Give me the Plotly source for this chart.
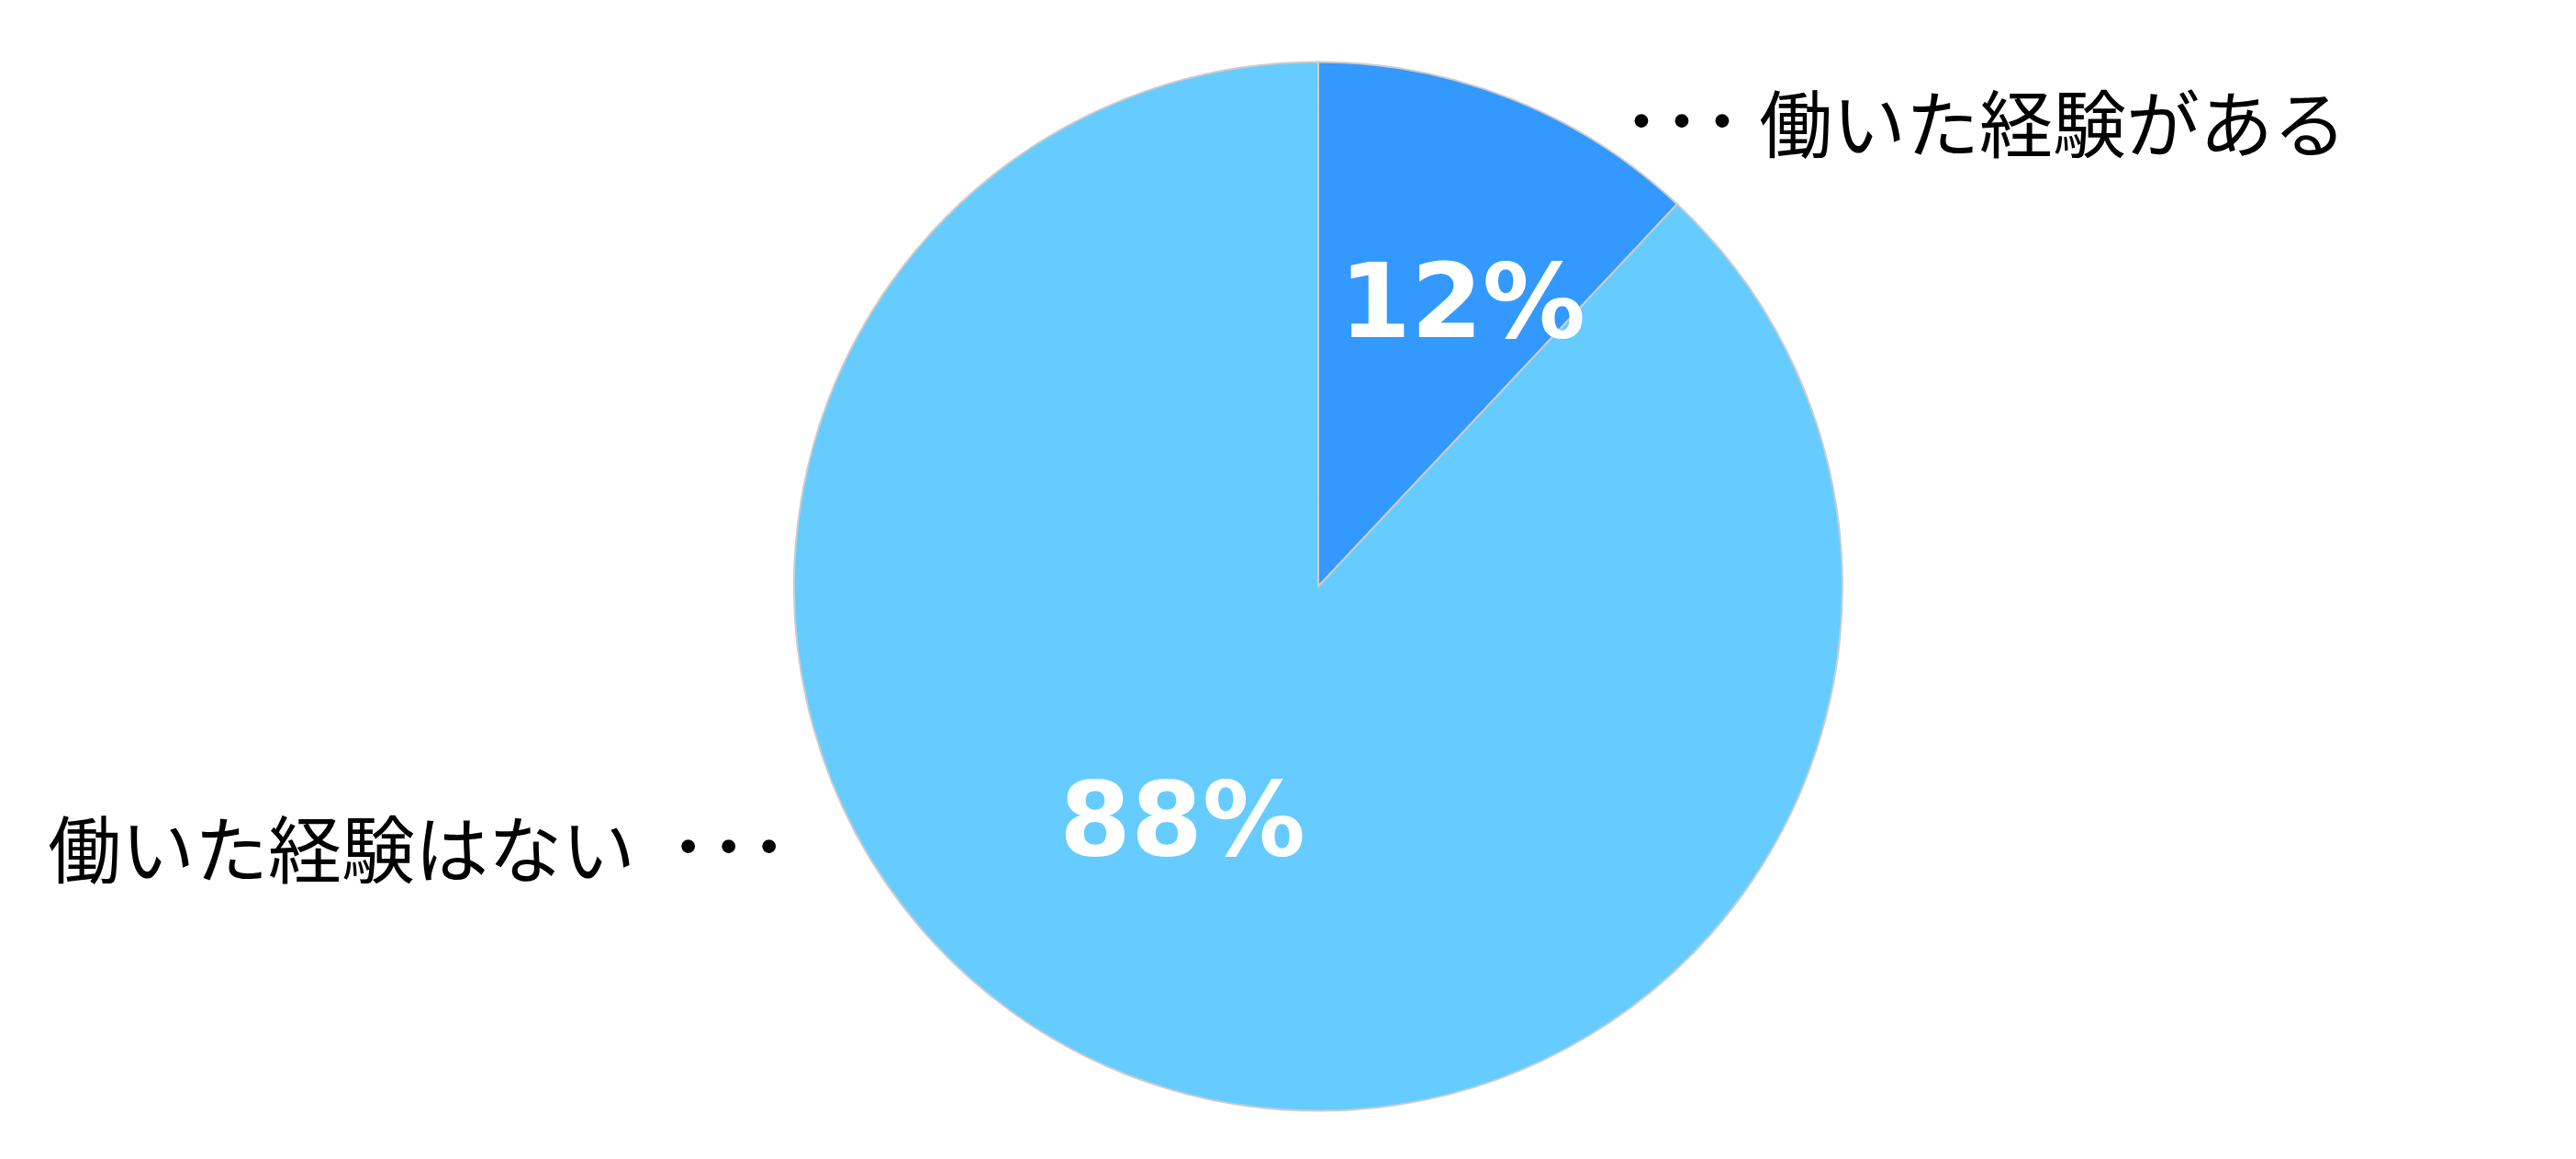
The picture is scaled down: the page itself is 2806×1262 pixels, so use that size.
import plotly.graph_objects as go

# データ
labels = ["働いた経験がある", "働いた経験はない"]
values = [12, 88]
colors = ["#3399FF", "#66CCFF"]

W, H = 2806, 1262

fig = go.Figure()

fig.add_trace(go.Pie(
    labels=labels,
    values=values,
    sort=False,
    direction="clockwise",
    rotation=0,
    marker=dict(colors=colors, line=dict(color="#CCCCCC", width=2)),
    textinfo="none",
    domain=dict(x=[0.3054, 0.7124], y=[0.0475, 0.9532]),
    showlegend=False,
    hoverinfo="label+percent",
))

# パーセント表示 (位置は画像から)
total = sum(values)
pct_pos = [(1585, 320), (1280, 884)]
for v, (px, py) in zip(values, pct_pos):
    fig.add_annotation(
        text=f"{round(v / total * 100)}%",
        x=px / W, y=(H - py) / H, xref="paper", yref="paper",
        xanchor="center", yanchor="middle", showarrow=False,
        font=dict(family="DejaVu Sans", size=112, color="white", weight="bold"),
    )

# 外側のラベル
dots = '<span style="font-size:88px">･･･</span>'
fig.add_annotation(
    text=dots + " " + labels[0],
    x=1756 / W, y=(H - 118) / H, xref="paper", yref="paper",
    xanchor="left", yanchor="middle", showarrow=False,
    font=dict(family="Noto Sans CJK JP", size=80, color="black"),
)
fig.add_annotation(
    text=labels[1] + "  " + dots,
    x=42 / W, y=(H - 908) / H, xref="paper", yref="paper",
    xanchor="left", yanchor="middle", showarrow=False,
    font=dict(family="Noto Sans CJK JP", size=80, color="black"),
)

fig.update_layout(
    width=W, height=H,
    margin=dict(l=0, r=0, t=0, b=0),
    paper_bgcolor="white",
    plot_bgcolor="white",
)

fig.write_html("out.html")
